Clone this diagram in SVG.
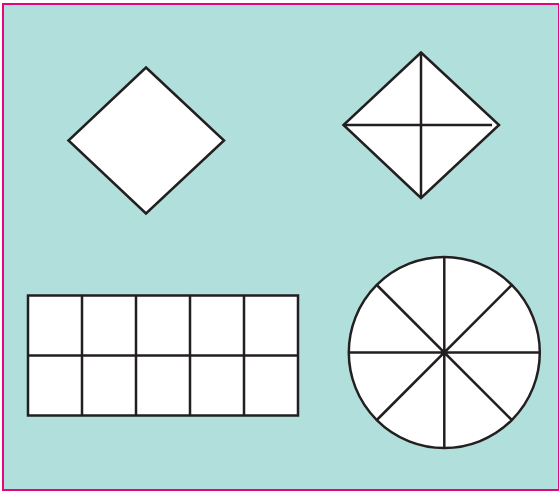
<svg xmlns="http://www.w3.org/2000/svg" width="559" height="491" viewBox="0 0 559 491">
<style>
.s{fill:#fff;stroke:#231f20;stroke-width:2.5;stroke-linejoin:miter}
.l{stroke:#231f20;stroke-width:2.5;fill:none}
</style>
<rect x="3" y="4" width="556" height="486" fill="#b1dfdb" stroke="#e5067f" stroke-width="2"/>
<g id="diamond1">
<polygon class="s" points="146,67.5 224,140.5 146,213.5 68.5,140.5"/>
</g>
<g id="diamond2">
<polygon class="s" points="421,52.5 499,125 421,198 343.5,125"/>
<line class="l" x1="421" y1="52.5" x2="421" y2="198"/>
<line class="l" x1="343.5" y1="125" x2="492" y2="125"/>
</g>
<g id="grid">
<rect class="s" x="28" y="295.5" width="270" height="120"/>
<path class="l" d="M28 355.5H298M82 295.5V415.5M136 295.5V415.5M190 295.5V415.5M244 295.5V415.5"/>
</g>
<g id="circle">
<circle class="s" cx="444.3" cy="352.5" r="95.5"/>
<path class="l" d="M444.3 257V448M348.8 352.5H539.8M376.8 285L511.8 420M511.8 285L376.8 420"/>
</g>
</svg>
